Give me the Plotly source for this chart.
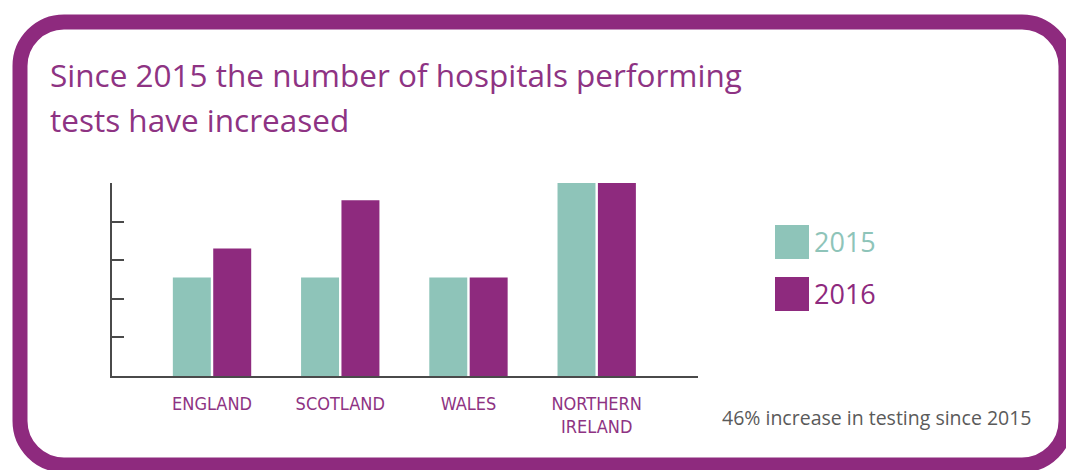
import plotly.graph_objects as go

categories = ["ENGLAND", "SCOTLAND", "WALES", "NORTHERN<br>IRELAND"]
series_names = ["2015", "2016"]
values_2015 = [2.55, 2.55, 2.55, 5.0]
values_2016 = [3.3, 4.55, 2.55, 5.0]
y_ticks = [0, 1, 2, 3, 4, 5]

W, H = 1066, 470
TEAL = "#8EC4B9"
PURPLE = "#8E2A7E"
TEXT_PURPLE = "#8E3383"
AXIS = "#4A4A4A"


def px(x):
    return x / W


def py(y):
    return 1 - y / H


fig = go.Figure()
fig.add_trace(go.Bar(x=categories, y=values_2015, name=series_names[0],
                     marker=dict(color=TEAL, line=dict(width=0)), showlegend=False))
fig.add_trace(go.Bar(x=categories, y=values_2016, name=series_names[1],
                     marker=dict(color=PURPLE, line=dict(width=0)), showlegend=False))

# rounded frame
L, T, R, B, r = 20, 22, 1066, 465, 44
k = 0.5523 * r
path = (
    f"M {px(L + r)} {py(T)} L {px(R - r)} {py(T)} "
    f"C {px(R - r + k)} {py(T)} {px(R)} {py(T + r - k)} {px(R)} {py(T + r)} "
    f"L {px(R)} {py(B - r)} "
    f"C {px(R)} {py(B - r + k)} {px(R - r + k)} {py(B)} {px(R - r)} {py(B)} "
    f"L {px(L + r)} {py(B)} "
    f"C {px(L + r - k)} {py(B)} {px(L)} {py(B - r + k)} {px(L)} {py(B - r)} "
    f"L {px(L)} {py(T + r)} "
    f"C {px(L)} {py(T + r - k)} {px(L + r - k)} {py(T)} {px(L + r)} {py(T)} Z"
)
shapes = [dict(type="path", xref="paper", yref="paper", path=path,
               line=dict(color=PURPLE, width=15), fillcolor="rgba(0,0,0,0)")]

# legend squares
shapes.append(dict(type="rect", xref="paper", yref="paper",
                   x0=px(775), x1=px(809), y0=py(259), y1=py(225),
                   fillcolor=TEAL, line=dict(width=0)))
shapes.append(dict(type="rect", xref="paper", yref="paper",
                   x0=px(775), x1=px(809), y0=py(311), y1=py(277),
                   fillcolor=PURPLE, line=dict(width=0)))

TITLE_FONT = "'Open Sans', Lato, sans-serif"


def note(text, x, y, size, color):
    return dict(text=text, x=px(x), y=py(y), xref="paper", yref="paper",
                xanchor="left", yanchor="middle", showarrow=False,
                font=dict(family=TITLE_FONT, size=size, color=color))


annotations = [
    note("Since 2015 the number of hospitals performing", 48, 75, 31.5, TEXT_PURPLE),
    note("tests have increased", 48, 120, 31.5, TEXT_PURPLE),
    note(series_names[0], 812, 242, 27, TEAL),
    note(series_names[1], 812, 293, 27, PURPLE),
    note("46% increase in testing since 2015", 720, 417, 19.5, "#5A5A5A"),
]

fig.update_layout(
    width=W, height=H,
    margin=dict(l=0, r=0, t=0, b=0),
    paper_bgcolor="white", plot_bgcolor="white",
    barmode="group", bargap=0.37, bargroupgap=0.06,
    shapes=shapes, annotations=annotations,
    showlegend=False,
    xaxis=dict(domain=[px(112), px(698)], range=[-0.78, 3.79],
               showline=True, linecolor=AXIS, linewidth=2,
               ticks="outside", ticklen=10, tickcolor="rgba(0,0,0,0)",
               showgrid=False, zeroline=False,
               tickfont=dict(family="'DejaVu Sans Condensed', sans-serif",
                             size=18, color=TEXT_PURPLE)),
    yaxis=dict(domain=[py(376), py(183)], range=[0, 5],
               tickvals=y_ticks, showticklabels=False,
               showline=True, linecolor=AXIS, linewidth=2,
               ticks="inside", ticklen=12, tickwidth=2, tickcolor=AXIS,
               showgrid=False, zeroline=False),
)

fig.write_html("out.html", config={"displayModeBar": False},
               post_script="document.body.style.margin='0px';document.body.style.overflow='hidden';")
